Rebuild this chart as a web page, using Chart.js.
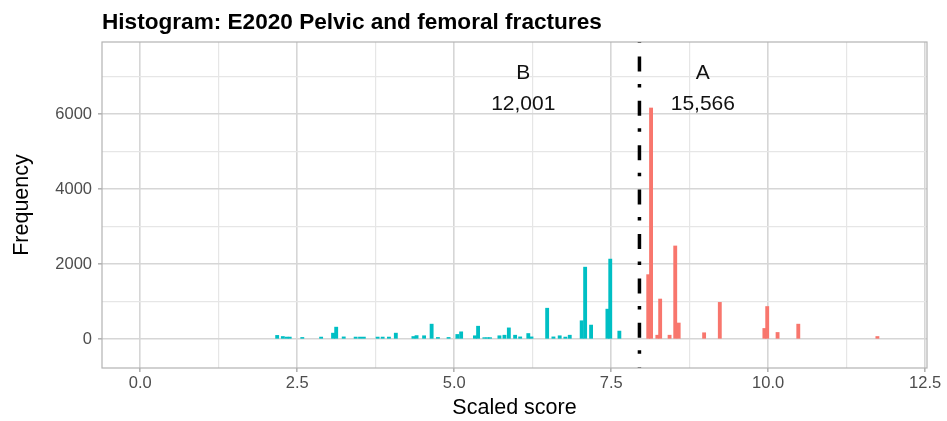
<!DOCTYPE html>
<html>
<head>
<meta charset="utf-8">
<script src="https://cdn.jsdelivr.net/npm/chart.js@4.4.1/dist/chart.umd.min.js"></script>
<style>
  html, body { margin: 0; padding: 0; background: #fff; }
</style>
</head>
<body>
<canvas id="hist" width="947" height="421"></canvas>
<script>
// group B (below the cut-off) and group A (above it), bin centre -> count
const bScores = [2.18, 2.27, 2.33, 2.38, 2.58, 2.88, 3.07, 3.12, 3.24, 3.43, 3.50, 3.56, 3.78, 3.86, 3.96, 4.07,
                 4.35, 4.40, 4.52, 4.64, 4.74, 4.91, 5.05, 5.11, 5.33, 5.38, 5.48, 5.53, 5.57, 5.72, 5.80, 5.87,
                 5.97, 6.05, 6.18, 6.23, 6.48, 6.58, 6.68, 6.77, 6.84, 7.03, 7.085, 7.18, 7.44, 7.485, 7.63];
const bCounts = [100, 70, 55, 55, 45, 55, 160, 320, 60, 55, 55, 55, 55, 55, 55, 160,
                 70, 95, 90, 400, 45, 45, 125, 195, 90, 345, 40, 40, 40, 90, 105, 300,
                 105, 60, 150, 60, 825, 60, 90, 55, 105, 490, 1920, 375, 800, 2135, 215];
const aScores = [8.09, 8.135, 8.235, 8.28, 8.43, 8.52, 8.575, 8.98, 9.23, 9.94, 9.985, 10.15, 10.48, 11.74];
const aCounts = [1720, 6165, 105, 1070, 105, 2485, 430, 170, 980, 285, 870, 178, 400, 70];

const xTicks = [0, 1.25, 2.5, 3.75, 5, 6.25, 7.5, 8.75, 10, 11.25, 12.5];
const yTicks = [0, 1000, 2000, 3000, 4000, 5000, 6000, 7000];

const cutoff = 7.95;
const groupNames = ['B', 'A'];
const groupTotals = ['12,001', '15,566'];
const groupLabelX = [6.10, 8.96];

const FONT = '"Liberation Sans", Arial, sans-serif';

const toPoints = (xs, ys) => xs.map((x, i) => ({ x: x, y: ys[i] }));

const overlay = {
  id: 'overlay',
  afterDatasetsDraw(chart) {
    const { ctx, chartArea: a, scales: { x, y } } = chart;
    ctx.save();
    // cut-off line (dot-dash)
    const cx = x.getPixelForValue(cutoff);
    ctx.strokeStyle = '#000';
    ctx.lineWidth = 3.5;
    ctx.setLineDash([15, 12.5, 3.5, 13.4]);
    ctx.lineDashOffset = 30;
    ctx.beginPath();
    ctx.moveTo(cx, a.top);
    ctx.lineTo(cx, a.bottom);
    ctx.stroke();
    ctx.setLineDash([]);

    // group labels
    ctx.fillStyle = '#111';
    ctx.font = '21px ' + FONT;
    ctx.textAlign = 'center';
    ctx.textBaseline = 'middle';
    groupNames.forEach((g, i) => {
      const px = x.getPixelForValue(groupLabelX[i]);
      ctx.fillText(g, px, y.getPixelForValue(7100));
      ctx.fillText(groupTotals[i], px, y.getPixelForValue(6270));
    });

    // panel border
    ctx.strokeStyle = '#b3b3b3';
    ctx.lineWidth = 1.2;
    ctx.strokeRect(a.left, a.top, a.right - a.left, a.bottom - a.top);

    // titles
    ctx.fillStyle = '#000';
    ctx.textAlign = 'left';
    ctx.textBaseline = 'alphabetic';
    ctx.font = 'bold 22.6px ' + FONT;
    ctx.fillText('Histogram: E2020 Pelvic and femoral fractures', a.left, 29);
    ctx.font = '21.5px ' + FONT;
    ctx.textAlign = 'center';
    ctx.textBaseline = 'middle';
    ctx.fillText('Scaled score', (a.left + a.right) / 2, 408);
    ctx.translate(22, (a.top + a.bottom) / 2);
    ctx.rotate(-Math.PI / 2);
    ctx.fillText('Frequency', 0, 0);
    ctx.restore();
  }
};

const gridColor = c => (c.tick && c.tick.label !== '') ? '#d6d6d6' : '#e6e6e6';
const gridWidth = c => (c.tick && c.tick.label !== '') ? 1.6 : 1.2;
const tickColor = c => (c.tick && c.tick.label !== '') ? '#b3b3b3' : 'rgba(0,0,0,0)';

new Chart(document.getElementById('hist'), {
  type: 'bar',
  data: {
    datasets: [
      { label: 'B', data: toPoints(bScores, bCounts), backgroundColor: '#00BFC4' },
      { label: 'A', data: toPoints(aScores, aCounts), backgroundColor: '#F8766D' }
    ]
  },
  options: {
    responsive: false,
    animation: false,
    grouped: false,
    barThickness: 3.2,
    layout: { padding: { top: 42, right: 20, bottom: 0, left: 0 } },
    plugins: { legend: { display: false }, tooltip: { enabled: false }, title: { display: false } },
    scales: {
      x: {
        type: 'linear',
        min: -0.61,
        max: 12.53,
        offset: false,
        afterBuildTicks: s => { s.ticks = xTicks.map(v => ({ value: v })); },
        afterFit: s => { s.height = 53; s.paddingLeft = 0; s.paddingRight = 0; },
        grid: { offset: false, color: gridColor, lineWidth: gridWidth, tickColor: tickColor, tickLength: 4 },
        border: { display: false },
        ticks: {
          padding: 2,
          maxRotation: 0,
          autoSkip: false,
          color: '#4d4d4d',
          font: { family: FONT, size: 16.5 },
          callback: v => (v % 2.5 === 0 ? v.toFixed(1) : '')
        }
      },
      y: {
        min: -770,
        max: 7925,
        afterBuildTicks: s => { s.ticks = yTicks.map(v => ({ value: v })); },
        afterFit: s => { s.width = 102; s.paddingTop = 0; s.paddingBottom = 0; },
        grid: { color: gridColor, lineWidth: gridWidth, tickColor: tickColor, tickLength: 4 },
        border: { display: false },
        ticks: {
          padding: 6,
          autoSkip: false,
          color: '#4d4d4d',
          font: { family: FONT, size: 16.5 },
          callback: v => (v % 2000 === 0 ? String(v) : '')
        }
      }
    }
  },
  plugins: [overlay]
});
</script>
</body>
</html>
